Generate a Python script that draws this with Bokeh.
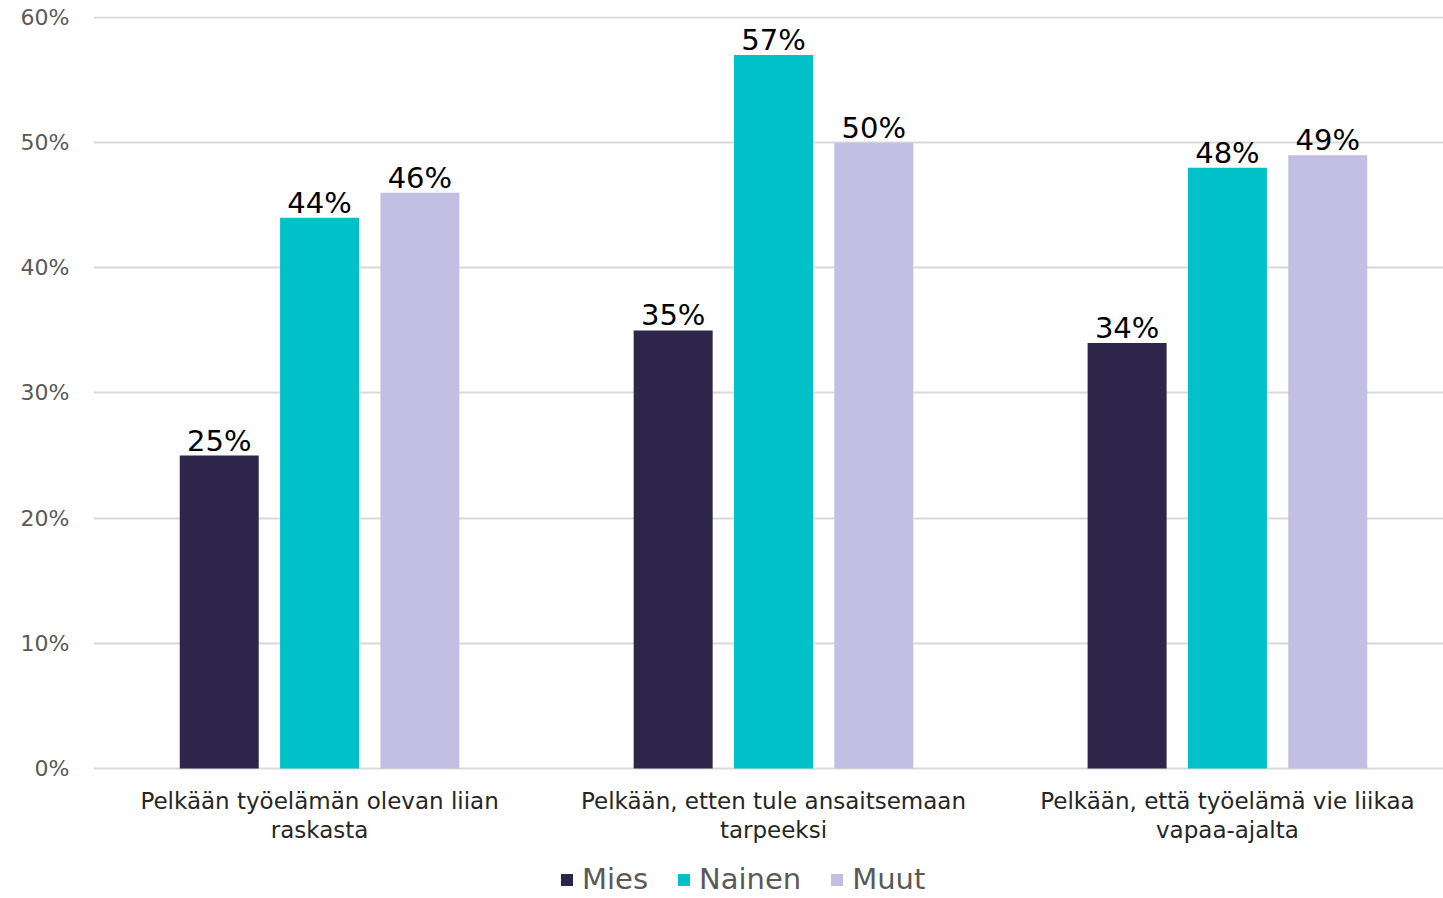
from bokeh.plotting import figure
from bokeh.models import ColumnDataSource, FixedTicker, Legend, LegendItem, Range1d
from bokeh.core.properties import value
from bokeh.embed import file_html
from bokeh.resources import INLINE

categories = ["Pelkään työelämän olevan liian\nraskasta",
              "Pelkään, etten tule ansaitsemaan\ntarpeeksi",
              "Pelkään, että työelämä vie liikaa\nvapaa-ajalta"]
series = ["Mies", "Nainen", "Muut"]
mies = [25, 35, 34]
nainen = [44, 57, 48]
muut = [46, 50, 49]
colors = ["#2E254B", "#00C1C8", "#C3BFE3"]
y_ticks = [0, 10, 20, 30, 40, 50, 60]

FONT = "DejaVu Sans"

# frame extends below 0 so that category labels and legend live inside it
p = figure(frame_width=1350, frame_height=880, output_backend="svg", toolbar_location=None,
           x_range=Range1d(-0.498, 2.476), y_range=Range1d(-10.23, 60.08))
p.min_border_left = 93
p.min_border_right = 0
p.min_border_top = 16
p.min_border_bottom = 0
p.outline_line_color = None
p.background_fill_color = "white"

offsets = [-0.221, 0.0, 0.221]
width = 0.174
items = []
for vals, name, col, off in zip([mies, nainen, muut], series, colors, offsets):
    xs = [i + off for i in range(len(categories))]
    src = ColumnDataSource(dict(x=xs, top=vals, lab=[f"{v}%" for v in vals]))
    r = p.vbar(x="x", top="top", bottom=0, width=width, source=src, color=col, line_color=None)
    p.text(x="x", y="top", text="lab", source=src, text_align="center",
           text_baseline="bottom", y_offset=2, text_font=value(FONT),
           text_font_size="29px", text_color="#000000")
    items.append(LegendItem(label=name, renderers=[r]))

# category labels under the groups
cat_src = ColumnDataSource(dict(x=list(range(len(categories))), y=[0] * len(categories),
                                t=categories))
p.text(x="x", y="y", text="t", source=cat_src, text_align="center", text_baseline="top",
       y_offset=20, text_font=value(FONT), text_font_size="23px", text_color="#262626",
       text_line_height=1.1)

p.yaxis.ticker = FixedTicker(ticks=y_ticks)
p.yaxis.major_label_overrides = {t: f"{t}%" for t in y_ticks}
p.yaxis.axis_line_color = None
p.yaxis.major_tick_line_color = None
p.yaxis.minor_tick_line_color = None
p.yaxis.major_label_text_font = FONT
p.yaxis.major_label_text_font_size = "22px"
p.yaxis.major_label_text_color = "#595959"
p.yaxis.major_label_standoff = 18

p.xaxis.visible = False
p.xgrid.grid_line_color = None
p.ygrid.ticker = FixedTicker(ticks=y_ticks)
p.ygrid.grid_line_color = "#D9D9D9"
p.ygrid.grid_line_width = 2

legend = Legend(items=items, orientation="horizontal", location=(466, 0),
                label_text_font=FONT, label_text_font_size="29px",
                label_text_color="#595959", glyph_width=15, glyph_height=15,
                spacing=28, label_standoff=8, border_line_color=None,
                background_fill_alpha=0, padding=0, margin=0)
p.add_layout(legend)

open("out.html", "w").write(file_html(p, INLINE))
